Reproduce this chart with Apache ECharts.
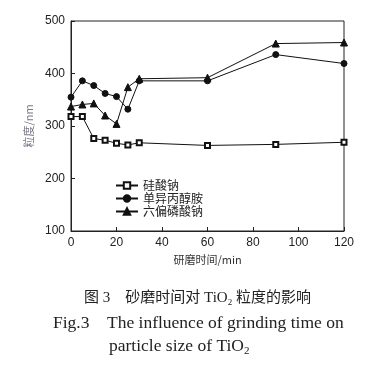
<!DOCTYPE html>
<html><head><meta charset="utf-8">
<script src="https://cdn.jsdelivr.net/npm/echarts@6/dist/echarts.min.js"></script>
<style>html,body{margin:0;padding:0;background:#fff}#c{width:372px;height:367px}</style>
</head><body><div id="c"></div>
<script>
const times = [0, 5, 10, 15, 20, 25, 30, 60, 90, 120];
const seriesNames = ['硅酸钠', '单异丙醇胺', '六偏磷酸钠'];
const silicate = [318, 318, 276, 273, 267, 264, 268, 263, 265, 269];
const mipa = [355, 386, 377, 362, 356, 332, 386, 386, 436, 419];
const hexameta = [337, 341, 343, 320, 304, 374, 390, 392, 457, 459];
const xTicks = [0, 20, 40, 60, 80, 100, 120];
const yTicks = [100, 200, 300, 400, 500];

const pair = arr => times.map((t, i) => [t, arr[i]]);
const chart = echarts.init(document.getElementById('c'));
const mk = (name, data, symbol, size, bw) => ({
  name, type: 'line', data: pair(data), symbol, symbolSize: size,
  color: '#111',
  lineStyle: {color: '#111', width: 1, type: 'solid'},
  itemStyle: {color: '#111', borderColor: '#111', borderWidth: bw},
  animation: false
});
chart.setOption({
  backgroundColor: '#fff',
  animation: false,
  grid: {left: 71, right: 28, top: 21, bottom: 136, show: true, borderColor: '#222', borderWidth: 1},
  xAxis: {
    type: 'value', min: xTicks[0], max: xTicks[xTicks.length - 1], interval: 20,
    name: '研磨时间/min', nameLocation: 'middle', nameGap: 21,
    nameTextStyle: {fontSize: 11, color: '#333', fontFamily: 'Noto Sans CJK SC, DejaVu Sans Mono'},
    axisLine: {lineStyle: {color: '#222'}},
    axisTick: {inside: true, length: 4, lineStyle: {color: '#222'}},
    axisLabel: {fontSize: 12, color: '#222', fontFamily: 'Liberation Sans, Arial', margin: 6},
    splitLine: {show: false}
  },
  yAxis: {
    type: 'value', min: yTicks[0], max: yTicks[yTicks.length - 1], interval: 100,
    name: '粒度/nm', nameLocation: 'middle', nameGap: 24,
    nameTextStyle: {fontSize: 11, color: '#778', fontFamily: 'Noto Sans CJK SC'},
    axisLine: {show: true, lineStyle: {color: '#222'}},
    axisTick: {inside: true, length: 4, lineStyle: {color: '#222'}},
    axisLabel: {fontSize: 12, color: '#222', fontFamily: 'Liberation Sans, Arial', margin: 6},
    splitLine: {show: false}
  },
  legend: {
    orient: 'vertical', left: 110, top: 174, itemGap: 0, itemWidth: 22, itemHeight: 8,
    textStyle: {fontSize: 12, lineHeight: 13, color: '#222', fontFamily: 'Noto Sans CJK SC'},
    data: seriesNames
  },
  series: [
    mk(seriesNames[0], silicate, 'emptyRect', 5, 0.8),
    mk(seriesNames[1], mipa, 'circle', 6, 1),
    mk(seriesNames[2], hexameta, 'triangle', 7, 1)
  ],
  graphic: [
    {type: 'text', left: 84, top: 291, style: {
      text: '图 3　砂磨时间对 TiO{s|2} 粒度的影响',
      font: '15px "Liberation Serif", "Noto Sans CJK SC"', fill: '#222',
      rich: {s: {fontSize: 9, padding: [8, 0, 0, 0], fontFamily: 'Liberation Serif'}}
    }},
    {type: 'text', left: 53, top: 314, style: {
      text: 'Fig.3    The influence of grinding time on',
      font: '17.5px "Liberation Serif"', fill: '#222'
    }},
    {type: 'text', left: 109, top: 337, style: {
      text: 'particle size of TiO{s|2}',
      font: '17.5px "Liberation Serif"', fill: '#222',
      rich: {s: {fontSize: 11, padding: [10, 0, 0, 0], fontFamily: 'Liberation Serif'}}
    }}
  ]
});
</script></body></html>
